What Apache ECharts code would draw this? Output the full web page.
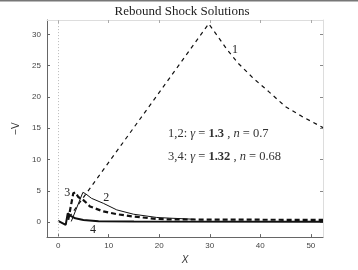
<!DOCTYPE html>
<html>
<head>
<meta charset="utf-8">
<script src="https://cdn.jsdelivr.net/npm/echarts@6/dist/echarts.min.js"></script>
<style>html,body{margin:0;padding:0;background:#fff}#c{width:358px;height:270px}</style>
</head>
<body>
<div id="c"></div>
<script>
// Curve 1 (thin dashed): gamma=1.3, n=0.7
const curve1X = [2.2, 29.8, 31.4, 33.3, 35.6, 38.6, 41.6, 44.9, 48.2, 52.4];
const curve1Y = [0.8, 31.7, 29.9, 27.7, 25.4, 23.0, 20.9, 18.5, 16.9, 15.1];
// Curve 2 (thin solid)
const curve2X = [2.6, 4.9, 5.4, 6.6, 8.95, 11.6, 14.9, 19.5, 22.1, 27.0];
const curve2Y = [0.1, 4.75, 4.55, 3.8, 3.0, 1.95, 1.26, 0.74, 0.63, 0.45];
// Curve 3 (thick dashed): gamma=1.32, n=0.68
const curve3X = [2.0, 3.0, 3.4, 4.0, 5.0, 5.7, 6.3, 8.95, 11.6, 14.8, 19.5, 22.1, 30.0, 52.4];
const curve3Y = [0.36, 4.6, 4.75, 4.0, 3.5, 3.0, 2.5, 1.7, 1.26, 0.9, 0.5, 0.43, 0.4, 0.35];
// Curve 4 (thick solid)
const curve4X = [0.0, 1.5, 1.9, 2.5, 3.4, 5.0, 8.0, 15.0, 52.4];
const curve4Y = [0.2, -0.45, 1.4, 1.0, 0.6, 0.35, 0.15, 0.08, 0.05];

const xTicks = [0, 10, 20, 30, 40, 50];
const yTicks = [0, 5, 10, 15, 20, 25, 30];
const curveLabels = ['1', '2', '3', '4'];
const curveLabelAt = [[35, 27.5], [9.5, 3.8], [1.8, 4.6], [6.9, -1.25]];
const titleText = 'Rebound Shock Solutions';
const noteGamma = ['1.3', '1.32'];
const noteN = ['0.7', '0.68'];
const noteIds = ['1,2:', '3,4:'];

const zip = (xs, ys) => xs.map((x, i) => [x, ys[i]]);
const serif = '"Liberation Serif", "DejaVu Serif", serif';
const sans = '"Liberation Sans", "DejaVu Sans", sans-serif';

const noteRich = {
  r: {fontFamily: serif, fontSize: 12.5, color: '#333'},
  b: {fontFamily: serif, fontSize: 12.5, fontWeight: 'bold', color: '#333'},
  i: {fontFamily: serif, fontSize: 12.5, fontStyle: 'italic', color: '#333'}
};
const noteText = k => `{r|${noteIds[k]} }{i|γ}{r| = }{b|${noteGamma[k]}}{r| , }{i|n}{r| = ${noteN[k]}}`;

const chart = echarts.init(document.getElementById('c'), null, {renderer: 'canvas'});

const axisCommon = {type: 'value', splitLine: {show: false}};

chart.setOption({
  animation: false,
  backgroundColor: '#fff',
  grid: {left: 47, right: 35, top: 20, bottom: 31, containLabel: false},
  xAxis: [
    Object.assign({}, axisCommon, {
      min: -2.2, max: 52.4,
      name: 'X', nameLocation: 'middle', nameGap: 12,
      nameTextStyle: {fontFamily: sans, fontStyle: 'italic', fontSize: 10, color: '#333'},
      axisLine: {show: true, onZero: false, lineStyle: {color: '#666', width: 1}},
      axisTick: {show: true, inside: true, length: 3, customValues: xTicks, lineStyle: {color: '#666'}},
      axisLabel: {show: true, customValues: xTicks, margin: 5, fontSize: 8, color: '#444', fontFamily: sans}
    }),
    Object.assign({}, axisCommon, {
      min: -2.2, max: 52.4, position: 'top',
      axisLine: {show: true, onZero: false, lineStyle: {color: '#ddd', width: 1}},
      axisTick: {show: true, inside: true, length: 3, customValues: xTicks, lineStyle: {color: '#aaa'}},
      axisLabel: {show: false}
    })
  ],
  yAxis: [
    Object.assign({}, axisCommon, {
      min: -2.4, max: 32.3,
      name: '−V', nameLocation: 'middle', nameGap: 19,
      nameTextStyle: {fontFamily: sans, fontSize: 10, color: '#333'},
      axisLine: {show: true, onZero: false, lineStyle: {color: '#666', width: 1}},
      axisTick: {show: true, inside: true, length: 3, customValues: yTicks, lineStyle: {color: '#666'}},
      axisLabel: {show: true, customValues: yTicks, margin: 6, fontSize: 8, color: '#444', fontFamily: sans}
    }),
    Object.assign({}, axisCommon, {
      min: -2.4, max: 32.3, position: 'right',
      axisLine: {show: true, onZero: false, lineStyle: {color: '#ddd', width: 1}},
      axisTick: {show: true, inside: true, length: 3, customValues: yTicks, lineStyle: {color: '#888'}},
      axisLabel: {show: false}
    })
  ],
  graphic: [
    {type: 'rect', left: 0, top: 0, shape: {width: 358, height: 1.5}, style: {fill: '#777'}},
    {type: 'text', x: 182, y: 5, style: {text: titleText, textAlign: 'center', font: '13px ' + serif, fill: '#222'}},
    {type: 'text', x: 168, y: 127, style: {text: noteText(0), rich: noteRich, fill: '#333'}},
    {type: 'text', x: 168, y: 150, style: {text: noteText(1), rich: noteRich, fill: '#333'}}
  ],
  series: [
    {
      type: 'line', data: zip(curve1X, curve1Y), symbol: 'none', z: 3,
      lineStyle: {color: '#111', width: 1.2, type: [4, 4]},
      markLine: {
        silent: true, symbol: 'none', label: {show: false},
        lineStyle: {color: '#bbb', width: 1, type: [1, 2]},
        data: [{xAxis: 0}]
      },
      markPoint: {
        symbol: 'circle', symbolSize: 0,
        label: {show: true, position: 'inside', fontFamily: serif, fontSize: 12, color: '#222', formatter: p => p.name},
        data: curveLabels.map((t, i) => ({name: t, coord: curveLabelAt[i]}))
      }
    },
    {type: 'line', data: zip(curve2X, curve2Y), symbol: 'none', z: 3, lineStyle: {color: '#111', width: 1}},
    {type: 'line', data: zip(curve3X, curve3Y), symbol: 'none', z: 4, lineStyle: {color: '#111', width: 2.2, type: [5, 3]}},
    {type: 'line', data: zip(curve4X, curve4Y), symbol: 'none', z: 4, lineStyle: {color: '#111', width: 2}}
  ]
});
</script>
</body>
</html>
